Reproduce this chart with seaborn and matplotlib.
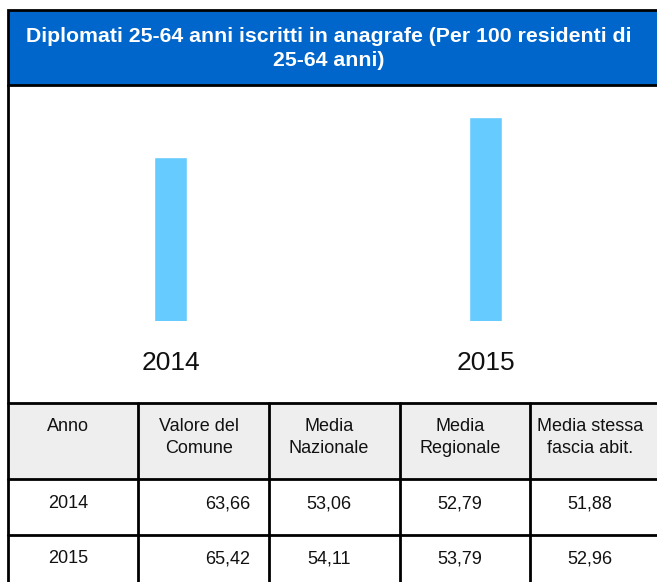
import matplotlib
matplotlib.use("Agg")
import matplotlib.pyplot as plt
from matplotlib.patches import Rectangle
import seaborn as sns
import pandas as pd

sns.set_theme(style="white")
plt.rcParams["font.family"] = ["Liberation Sans", "DejaVu Sans"]

# Data
anni = ["2014", "2015"]
valore_comune = [63.66, 65.42]
media_nazionale = [53.06, 54.11]
media_regionale = [52.79, 53.79]
media_fascia = [51.88, 52.96]

titolo = ["Diplomati 25-64 anni iscritti in anagrafe (Per 100 residenti di",
          "25-64 anni)"]
intestazioni = ["Anno", "Valore del\nComune", "Media\nNazionale",
                "Media\nRegionale", "Media stessa\nfascia abit."]

W, H = 657, 582
fig = plt.figure(figsize=(W / 100, H / 100), dpi=100)

# Background layer in pixel coordinates for the frame, banner and table
bg = fig.add_axes([0, 0, 1, 1], zorder=0)
bg.set_xlim(0, W)
bg.set_ylim(H, 0)
bg.axis("off")

blu = "#0066CC"
bg.add_patch(Rectangle((8, 10), W + 10, 75, facecolor=blu, edgecolor="black", lw=2))
for riga, y in enumerate([36, 61]):
    bg.text(329, y, titolo[riga], color="white", fontsize=15.3, fontweight="bold",
            ha="center", va="center")

# Left frame border
bg.plot([8, 8], [85, H + 5], color="black", lw=2)

# Table
top, hdr_bot, r1_bot = 403, 479, 535
bg.add_patch(Rectangle((8, top), W + 10, hdr_bot - top, facecolor="#EEEEEE",
                       edgecolor="none"))
for y in [top, hdr_bot, r1_bot]:
    bg.plot([8, W + 5], [y, y], color="black", lw=2)
for x in [138, 269, 400, 530]:
    bg.plot([x, x], [top, H + 5], color="black", lw=2)

centri = [68, 199, 329, 460, 590]
for cx, testo in zip(centri, intestazioni):
    bg.text(cx, 418, testo, fontsize=13, ha="center", va="top",
            linespacing=1.35, color="#111111")

def fmt(v):
    return f"{v:.2f}".replace(".", ",")

righe_y = [504, 558.5]
for i, y in enumerate(righe_y):
    bg.text(centri[0], y, anni[i], fontsize=13, ha="center", va="center", color="#111111")
    bg.text(250, y, fmt(valore_comune[i]), fontsize=13, ha="right", va="center", color="#111111")
    bg.text(centri[2], y, fmt(media_nazionale[i]), fontsize=13, ha="center", va="center", color="#111111")
    bg.text(centri[3], y, fmt(media_regionale[i]), fontsize=13, ha="center", va="center", color="#111111")
    bg.text(centri[4], y, fmt(media_fascia[i]), fontsize=13, ha="center", va="center", color="#111111")

# Bar chart
ax_left, ax_right, ax_top, ax_bot = 13, 643, 100, 320.7
ax = fig.add_axes([ax_left / W, 1 - ax_bot / H, (ax_right - ax_left) / W,
                   (ax_bot - ax_top) / H], zorder=1)
df = pd.DataFrame({"Anno": anni, "Valore": valore_comune})
sns.barplot(data=df, x="Anno", y="Valore", color="#66CCFF", saturation=1,
            width=0.105, ax=ax)
ax.set_xlim(-0.5, 1.5)
ax.set_ylim(56.51, 66.15)
ax.patch.set_visible(False)
for s in ax.spines.values():
    s.set_visible(False)
ax.set_yticks([])
ax.set_xlabel("")
ax.set_ylabel("")
ax.tick_params(axis="x", length=0, pad=22, labelsize=19, labelcolor="#111111")

fig.savefig("out.png", dpi=100)
